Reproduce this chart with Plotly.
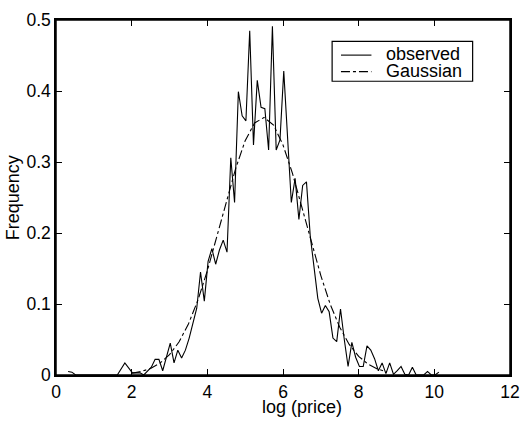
import plotly.graph_objects as go

# Observed frequency of log(price)
obs_x = [0.32, 0.42, 0.52, 1.62, 1.82, 1.92, 2.02, 2.12, 2.22, 2.32, 2.42, 2.52,
         2.62, 2.72, 2.82, 2.92, 3.02, 3.12, 3.22, 3.32, 3.42, 3.52, 3.62, 3.72,
         3.82, 3.92, 4.02, 4.12, 4.22, 4.32, 4.42, 4.52, 4.62, 4.72, 4.82, 4.92,
         5.02, 5.12, 5.22, 5.32, 5.42, 5.52, 5.62, 5.72, 5.82, 5.92, 6.02, 6.12,
         6.22, 6.32, 6.42, 6.52, 6.62, 6.72, 6.82, 6.92, 7.02, 7.12, 7.22, 7.32,
         7.42, 7.52, 7.62, 7.72, 7.82, 7.92, 8.02, 8.12, 8.22, 8.32, 8.42, 8.52,
         8.62, 8.72, 8.82, 8.92, 9.02, 9.12, 9.22, 9.32, 9.42, 9.52, 9.62, 9.72,
         9.82, 9.92, 10.02, 10.12]
obs_y = [0.005, 0.004, 0.0, 0.0, 0.017, 0.010, 0.003, 0.003, 0.003, 0.0, 0.005, 0.011,
         0.022, 0.022, 0.006, 0.026, 0.045, 0.017, 0.035, 0.024, 0.035, 0.052, 0.072, 0.094,
         0.145, 0.104, 0.160, 0.178, 0.156, 0.176, 0.190, 0.173, 0.306, 0.243, 0.399, 0.365,
         0.358, 0.485, 0.324, 0.415, 0.377, 0.375, 0.317, 0.491, 0.317, 0.331, 0.428, 0.340,
         0.243, 0.277, 0.219, 0.267, 0.272, 0.196, 0.150, 0.108, 0.087, 0.098, 0.089, 0.052,
         0.047, 0.093, 0.050, 0.012, 0.046, 0.025, 0.012, 0.012, 0.041, 0.035, 0.023, 0.006,
         0.017, 0.002, 0.017, 0.001, 0.006, 0.012, 0.001, 0.0, 0.011, 0.0, 0.0, 0.0,
         0.005, 0.0, 0.0, 0.004]

# Gaussian fit curve
gau_x = [2.0, 2.25, 2.5, 2.75, 3.0, 3.25, 3.5, 3.75, 4.0, 4.25, 4.5, 4.75, 5.0,
         5.25, 5.5, 5.75, 6.0, 6.25, 6.5, 6.75, 7.0, 7.25, 7.5, 7.75, 8.0, 8.25,
         8.5, 8.75]
gau_y = [0.0024, 0.0049, 0.0092, 0.0167, 0.0286, 0.0464, 0.0718, 0.1053, 0.1468,
         0.194, 0.244, 0.291, 0.330, 0.355, 0.3627, 0.352, 0.324, 0.284, 0.236,
         0.186, 0.140, 0.0993, 0.0672, 0.0431, 0.0263, 0.0152, 0.0084, 0.0044]

x_ticks = [0, 2, 4, 6, 8, 10, 12]
y_ticks = [0, 0.1, 0.2, 0.3, 0.4, 0.5]
y_tick_labels = ["0", "0.1", "0.2", "0.3", "0.4", "0.5"]
series_names = ["observed", "Gaussian"]

FONT = "Liberation Sans, Arial, Helvetica, sans-serif"
FS = 17.5
FS_TXT = 18

fig = go.Figure()
fig.add_trace(go.Scatter(x=obs_x, y=obs_y, mode="lines", name=series_names[0],
                         line=dict(color="black", width=1.1)))
fig.add_trace(go.Scatter(x=gau_x, y=gau_y, mode="lines", name=series_names[1],
                         line=dict(color="black", width=1.1, dash="dashdot")))

axis_common = dict(showline=True, linecolor="#000000", linewidth=1.5, mirror="ticks",
                   ticks="inside", ticklen=6, tickcolor="#000000", tickwidth=1.3,
                   showgrid=False, zeroline=False,
                   tickfont=dict(family=FONT, size=FS, color="black"))

fig.update_xaxes(range=[0, 12], tickmode="array", tickvals=x_ticks,
                 ticktext=[str(v) for v in x_ticks], **axis_common)
fig.update_yaxes(range=[0, 0.5], tickmode="array", tickvals=y_ticks,
                 ticktext=y_tick_labels, **axis_common)

# Axes box frame
fig.add_shape(type="rect", xref="paper", yref="paper", x0=0, x1=1, y0=0, y1=1,
              line=dict(color="#000000", width=1.5), fillcolor="rgba(0,0,0,0)",
              layer="above")

fig.add_annotation(text="log (price)", xref="paper", yref="paper", x=0.541, y=-0.0904,
                   xanchor="center", yanchor="middle", showarrow=False,
                   font=dict(family=FONT, size=FS_TXT, color="black"))
fig.add_annotation(text="Frequency", xref="paper", yref="paper", x=-0.0952, y=0.5,
                   xanchor="center", yanchor="middle", showarrow=False, textangle=-90,
                   font=dict(family=FONT, size=FS_TXT, color="black"))

# Legend box drawn by hand (matches the compact MATLAB-style legend)
fig.add_shape(type="rect", xref="paper", yref="paper", x0=0.6082, x1=0.9177,
              y0=0.8274, y1=0.9397, line=dict(color="black", width=1.2),
              fillcolor="white", layer="above")
legend_rows_y = [0.9041, 0.8575]
legend_dash = ["solid", "dashdot"]
for name, ry, dsh in zip(series_names, legend_rows_y, legend_dash):
    fig.add_shape(type="line", xref="paper", yref="paper", x0=0.6277, x1=0.6948,
                  y0=ry - 0.003, y1=ry - 0.003, line=dict(color="black", width=1.1, dash=dsh),
                  layer="above")
    fig.add_annotation(text=name, xref="paper", yref="paper", x=0.7229, y=ry,
                       xanchor="left", yanchor="middle", showarrow=False,
                       font=dict(family=FONT, size=FS_TXT, color="black"))

fig.update_layout(
    width=530, height=421,
    margin=dict(l=56, r=12, t=10, b=46),
    paper_bgcolor="white", plot_bgcolor="white",
    font=dict(family=FONT, size=FS, color="black"),
    showlegend=False,
)

fig.write_html("out.html", config={"displayModeBar": False},
               post_script="document.body.style.margin='0px';document.body.style.overflow='hidden';")
